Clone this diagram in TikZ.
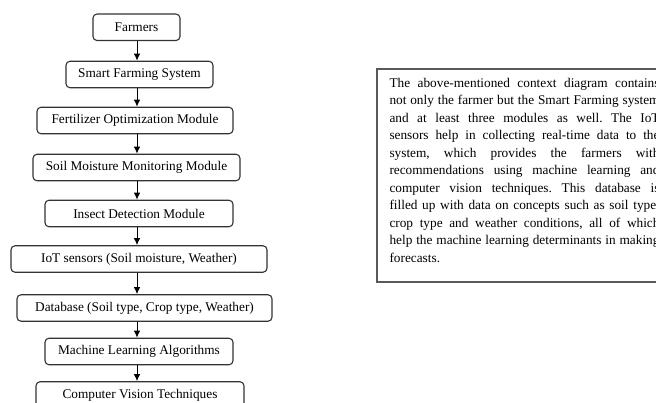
\documentclass[tikz,border=0pt]{standalone}
\usepackage{fontspec}
\setmainfont{Liberation Serif}
\usetikzlibrary{arrows.meta}
\tikzset{
    stage/.style = {draw=black!80, line width=1.1pt, rounded corners=4pt, inner sep=0pt,
        minimum height=26.5pt, minimum width=#1, font=\fontsize{13.3}{16}\selectfont},
    note/.style = {inner sep=0pt, text width=270pt, align=justify, font=\fontsize{13.3}{17.5}\selectfont},
    >={Latex[length=7pt, width=6.5pt]}
}

\begin{document}
\begin{tikzpicture}[x=1pt, y=-1pt, line width=1pt]
        \useasboundingbox (0, 0) rectangle (656, 403);
        \coordinate (spine) at (137, 0);
        % flow of the system
        \node[stage=87pt] (farmers) at (136.5, 27.3) {Farmers};
        \node[stage=147pt] (smart) at (139.5, 74.5) {Smart Farming System};
        \node[stage=196pt] (fertilizer) at (135, 120.5) {Fertilizer Optimization Module};
        \node[stage=207pt] (soil) at (136.5, 167.5) {Soil Moisture Monitoring Module};
        \node[stage=188pt] (insect) at (139, 213.5) {Insect Detection Module};
        \node[stage=256pt] (iot) at (139, 259) {IoT sensors (Soil moisture, Weather)};
        \node[stage=255pt] (database) at (144.5, 308) {Database (Soil type, Crop type, Weather)};
        \node[stage=188pt] (ml) at (139, 351.5) {Machine Learning Algorithms};
        \node[stage=208pt] (cv) at (140, 395) {Computer Vision Techniques};
        \path[draw, ->] (farmers.south -| spine) -- (smart.north -| spine);
        \path[draw, ->] (smart.south -| spine) -- (fertilizer.north -| spine);
        \path[draw, ->] (fertilizer.south -| spine) -- (soil.north -| spine);
        \path[draw, ->] (soil.south -| spine) -- (insect.north -| spine);
        \path[draw, ->] (insect.south -| spine) -- (iot.north -| spine);
        \path[draw, ->] (iot.south -| spine) -- (database.north -| spine);
        \path[draw, ->] (database.south -| spine) -- (ml.north -| spine);
        \path[draw, ->] (ml.south -| spine) -- (cv.north -| spine);
        % description
        \path[draw, gray!70!black, line width=1.5pt] (377, 69) rectangle (690, 282);
        \node[note, anchor=north west] (context) at (389, 77.5) {\frenchspacing \hyphenpenalty=10000 \exhyphenpenalty=10000 \tolerance=10000
            The above-mentioned context diagram contains\linebreak
            not only the farmer but the Smart Farming system\linebreak
            and at least three modules as well. The IoT\linebreak
            sensors help in collecting real-time data to the\linebreak
            system, which provides the farmers with\linebreak
            recommendations using machine learning and\linebreak
            computer vision techniques. This database is\linebreak
            filled up with data on concepts such as soil type,\linebreak
            crop type and weather conditions, all of which\linebreak
            help the machine learning determinants in making\linebreak
            forecasts.};
    \end{tikzpicture}
\end{document}
